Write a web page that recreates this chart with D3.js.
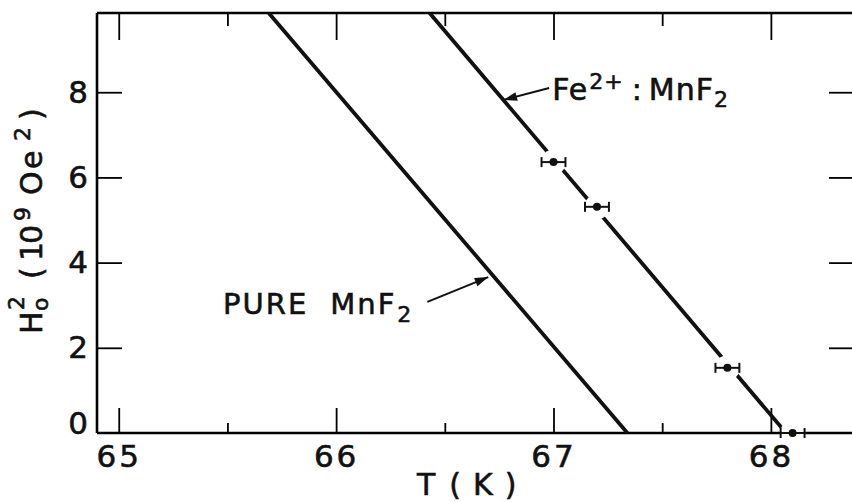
<!DOCTYPE html>
<html>
<head>
<meta charset="utf-8">
<script src="https://cdn.jsdelivr.net/npm/d3@7"></script>
<style>
  body { margin: 0; background: #fff; }
  svg { display: block; }
  text { font-family: "DejaVu Sans", "Liberation Sans", sans-serif; fill: #111; stroke: #111; stroke-width: 0.6px; }
</style>
</head>
<body>
<div id="chart"></div>
<script>
// données
const tTicks = [65, 65.5, 66, 66.5, 67, 67.5, 68];
const tLabels = [65, 66, 67, 68];
const hTicks = [0, 2, 4, 6, 8];

// points expérimentaux Fe2+:MnF2 (T en K, H0^2 en 10^9 Oe^2)
const feT = [67.0, 67.2, 67.8, 68.1];
const feH = [6.36, 5.31, 1.53, 0.0];
const feErr = [0.055, 0.055, 0.055, 0.055];

// droites (extrémités sur les bords du cadre)
const pureT = [65.69, 67.34];
const pureH = [9.86, 0];
const feLineT = [66.43, 68.07];
const feLineH = [9.86, 0];

// flèches d'annotation [T départ, H départ, T pointe, H pointe]
const pureArrow = [66.42, 3.08, 66.70, 3.66];
const feArrow = [66.98, 8.10, 66.77, 7.82];

let width = 852;
let height = 502;

let svg = d3.select("#chart")
  .append("svg")
  .attr("width", width)
  .attr("height", height);

// cadre du graphe
let mLeft = 97, mRight = 860, mTop = 13, mBottom = 433;

let x = d3.scaleLinear().domain([64.9, 68.41]).range([mLeft, mRight]);
let y = d3.scaleLinear().domain([0, 9.86]).range([mBottom, mTop]);

let isInt = d => Number.isInteger(d);

// axe du bas
let xAxis = svg.append("g")
  .attr("transform", "translate(0," + mBottom + ")")
  .call(d3.axisBottom(x)
    .tickValues(tTicks)
    .tickSizeOuter(0)
    .tickPadding(6)
    .tickFormat(d => tLabels.includes(d) ? d : ""));
xAxis.select(".domain").attr("d", "M" + mLeft + ",0H" + mRight).attr("stroke-width", 2.6);
xAxis.selectAll(".tick line")
  .attr("y2", d => isInt(d) ? -25 : -10)
  .attr("stroke-width", 1.8);
xAxis.selectAll(".tick text")
  .style("font-size", "31px")
  .attr("letter-spacing", "3px")
  .attr("fill", "#111");

// axe du haut
let xTop = svg.append("g")
  .attr("transform", "translate(0," + mTop + ")")
  .call(d3.axisTop(x).tickValues(tTicks).tickSizeOuter(0).tickFormat(""));
xTop.select(".domain").attr("d", "M" + mLeft + ",0H" + mRight).attr("stroke-width", 2.6);
xTop.selectAll(".tick line")
  .attr("y2", d => isInt(d) ? 27 : 13)
  .attr("stroke-width", 1.8);

// axe de gauche
let yAxis = svg.append("g")
  .attr("transform", "translate(" + mLeft + ",0)")
  .call(d3.axisLeft(y).tickValues(hTicks).tickSizeInner(-25).tickSizeOuter(0).tickPadding(9));
yAxis.select(".domain").attr("d", "M0," + mTop + "V" + mBottom).attr("stroke-width", 2.6);
yAxis.selectAll(".tick line")
  .attr("stroke-width", 1.8)
  .attr("display", d => d === 0 ? "none" : null);
yAxis.selectAll(".tick text")
  .style("font-size", "31px")
  .attr("fill", "#111")
  .attr("y", d => d === 0 ? -9 : 0);

// axe de droite (hors image)
let yRight = svg.append("g")
  .attr("transform", "translate(" + mRight + ",0)")
  .call(d3.axisRight(y).tickValues(hTicks.filter(d => d > 0)).tickSizeInner(-31).tickSizeOuter(0).tickFormat(""));
yRight.select(".domain").attr("stroke-width", 2.6);
yRight.selectAll(".tick line").attr("stroke-width", 1.8);

// titres des axes
let xTitle = svg.append("text")
  .attr("x", 417)
  .attr("y", 495)
  .style("font-size", "30px");
xTitle.append("tspan").text("T");
xTitle.append("tspan").attr("dx", 14).text("(");
xTitle.append("tspan").attr("dx", 12).text("K");
xTitle.append("tspan").attr("dx", 12).text(")");

// titre vertical, lettres espacées comme sur l'original
let y0 = -334;
let yTitle = svg.append("text")
  .attr("transform", "translate(42,0) rotate(-90)")
  .attr("x", y0)
  .style("font-size", "30px");
yTitle.append("tspan").attr("x", y0).text("H");
yTitle.append("tspan").style("font-size", "22px").attr("x", y0 + 23).attr("dy", 6).text("o");
yTitle.append("tspan").style("font-size", "22px").attr("x", y0 + 24).attr("dy", -24).text("2");
yTitle.append("tspan").attr("x", y0 + 55).attr("dy", 18).text("(");
yTitle.append("tspan").attr("x", y0 + 73).text("1");
yTitle.append("tspan").attr("x", y0 + 90).text("0");
yTitle.append("tspan").style("font-size", "22px").attr("x", y0 + 113).attr("dy", -12).text("9");
yTitle.append("tspan").attr("x", y0 + 139).attr("dy", 12).text("O");
yTitle.append("tspan").attr("x", y0 + 165).text("e");
yTitle.append("tspan").style("font-size", "22px").attr("x", y0 + 193).attr("dy", -12).text("2");
yTitle.append("tspan").attr("x", y0 + 214).attr("dy", 12).text(")");

// droites
let line = d3.line().x(d => x(d[0])).y(d => y(d[1]));

svg.append("path")
  .datum(d3.zip(pureT, pureH))
  .attr("d", line)
  .attr("fill", "none")
  .attr("stroke", "#111")
  .attr("stroke-width", 3.8);

svg.append("path")
  .datum(d3.zip(feLineT, feLineH))
  .attr("d", line)
  .attr("fill", "none")
  .attr("stroke", "#111")
  .attr("stroke-width", 3.8);

// points avec barres d'erreur (interruption de la ligne autour)
let pts = d3.zip(feT, feH, feErr);

svg.selectAll(".halo")
  .data(pts)
  .join("circle")
  .attr("class", "halo")
  .attr("cx", d => x(d[0]))
  .attr("cy", d => y(d[1]))
  .attr("r", 12.5)
  .attr("fill", "#fff");

let eb = svg.selectAll(".eb")
  .data(pts)
  .join("g")
  .attr("class", "eb")
  .attr("stroke", "#111")
  .attr("stroke-width", 2);
eb.append("line")
  .attr("x1", d => x(d[0] - d[2])).attr("x2", d => x(d[0] + d[2]))
  .attr("y1", d => y(d[1])).attr("y2", d => y(d[1]));
eb.append("line")
  .attr("x1", d => x(d[0] - d[2])).attr("x2", d => x(d[0] - d[2]))
  .attr("y1", d => y(d[1]) - 5).attr("y2", d => y(d[1]) + 5);
eb.append("line")
  .attr("x1", d => x(d[0] + d[2])).attr("x2", d => x(d[0] + d[2]))
  .attr("y1", d => y(d[1]) - 5).attr("y2", d => y(d[1]) + 5);
eb.append("circle")
  .attr("cx", d => x(d[0]))
  .attr("cy", d => y(d[1]))
  .attr("r", 4)
  .attr("fill", "#111")
  .attr("stroke", "none");

// flèches
svg.append("defs").append("marker")
  .attr("id", "head")
  .attr("viewBox", "0 0 12 8")
  .attr("refX", 12)
  .attr("refY", 4)
  .attr("markerWidth", 15)
  .attr("markerHeight", 9)
  .attr("markerUnits", "userSpaceOnUse")
  .attr("orient", "auto")
  .append("path")
  .attr("d", "M0,0L12,4L0,8Z")
  .attr("fill", "#111");

[pureArrow, feArrow].forEach(a => {
  svg.append("line")
    .attr("x1", x(a[0])).attr("y1", y(a[1]))
    .attr("x2", x(a[2])).attr("y2", y(a[3]))
    .attr("stroke", "#111")
    .attr("stroke-width", 2)
    .attr("marker-end", "url(#head)");
});

// étiquettes
let pureLabel = svg.append("text")
  .attr("x", x(65.48))
  .attr("y", y(2.79))
  .style("font-size", "29px")
  .attr("letter-spacing", "2px");
pureLabel.append("tspan").text("PURE");
pureLabel.append("tspan").attr("dx", 22).text("MnF");
pureLabel.append("tspan").style("font-size", "22px").attr("dx", 1).attr("dy", 8).text("2");

let feLabel = svg.append("text")
  .attr("x", x(66.994))
  .attr("y", y(7.82))
  .style("font-size", "30px")
  .attr("letter-spacing", "1px");
feLabel.append("tspan").text("Fe");
feLabel.append("tspan").style("font-size", "22px").attr("dx", 1).attr("dy", -11).text("2+");
feLabel.append("tspan").attr("dx", 8).attr("dy", 11).text(":");
feLabel.append("tspan").attr("dx", 6).text("MnF");
feLabel.append("tspan").style("font-size", "22px").attr("dy", 7).text("2");
</script>
</body>
</html>
